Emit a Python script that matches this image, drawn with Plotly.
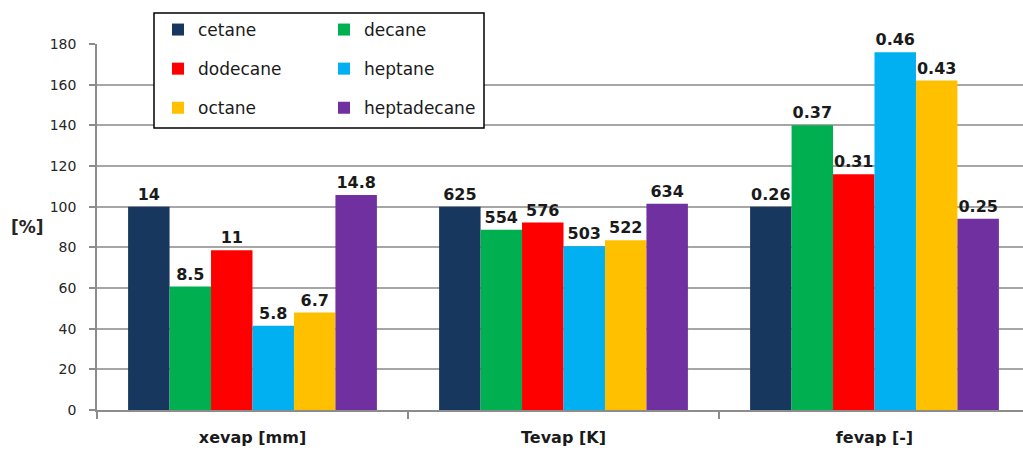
import plotly.graph_objects as go

# Evaporation parameters of each fuel, normalised to cetane (= 100 %)
categories = ["xevap [mm]", "Tevap [K]", "fevap [-]"]
fuels = ["cetane", "decane", "dodecane", "heptane", "octane", "heptadecane"]

cetane_pct = [100.0, 100.0, 100.0]
decane_pct = [60.7, 88.6, 140.0]
dodecane_pct = [78.6, 92.2, 116.0]
heptane_pct = [41.4, 80.5, 176.0]
octane_pct = [47.9, 83.5, 162.0]
heptadecane_pct = [105.7, 101.4, 94.0]

# Absolute values printed above the bars
cetane_lbl = ["14", "625", "0.26"]
decane_lbl = ["8.5", "554", "0.37"]
dodecane_lbl = ["11", "576", "0.31"]
heptane_lbl = ["5.8", "503", "0.46"]
octane_lbl = ["6.7", "522", "0.43"]
heptadecane_lbl = ["14.8", "634", "0.25"]

y_ticks = [0, 20, 40, 60, 80, 100, 120, 140, 160, 180]

series = [
    ("cetane", cetane_pct, cetane_lbl, "#17375E", "legend"),
    ("decane", decane_pct, decane_lbl, "#00B050", "legend2"),
    ("dodecane", dodecane_pct, dodecane_lbl, "#FF0000", "legend"),
    ("heptane", heptane_pct, heptane_lbl, "#00B0F0", "legend2"),
    ("octane", octane_pct, octane_lbl, "#FFC000", "legend"),
    ("heptadecane", heptadecane_pct, heptadecane_lbl, "#7030A0", "legend2"),
]

W, H = 1023, 451
ML, MR, MT, MB = 97, 0, 44, 41
plot_w = W - ML - MR
plot_h = H - MT - MB
cat_px = 311.0  # width of one category slot in pixels

fig = go.Figure()
for name, vals, lbls, color, leg in series:
    fig.add_trace(go.Bar(
        name=name,
        x=categories,
        y=vals,
        text=lbls,
        textposition="outside",
        constraintext="none",
        cliponaxis=False,
        textfont=dict(family="DejaVu Sans", size=16, color="#1a1a1a", weight="bold"),
        marker=dict(color=color, line=dict(width=0)),
        legend=leg,
        legendgroup=name,
    ))

FONT = "DejaVu Sans"
legend_common = dict(
    font=dict(family=FONT, size=17, color="#1a1a1a"),
    bgcolor="rgba(0,0,0,0)",
    borderwidth=0,
    orientation="v",
    tracegroupgap=14,
    xref="container",
    yref="container",
    xanchor="left",
    yanchor="top",
    itemclick=False,
)

fig.update_layout(
    width=W,
    height=H,
    margin=dict(l=ML, r=MR, t=MT, b=MB, pad=0, autoexpand=False),
    paper_bgcolor="white",
    plot_bgcolor="white",
    barmode="group",
    bargap=0.2,
    bargroupgap=0,
    font=dict(family=FONT, color="#262626"),
    legend=dict(x=158 / W, y=1 - 12 / H, **legend_common),
    legend2=dict(x=324 / W, y=1 - 12 / H, **legend_common),
    xaxis=dict(
        type="category",
        range=[-0.5, -0.5 + plot_w / cat_px],
        tickson="boundaries",
        ticks="outside",
        ticklen=7,
        tickcolor="#8c8c8c",
        tickwidth=1.5,
        showline=True,
        linecolor="#8c8c8c",
        linewidth=1.5,
        showgrid=False,
        tickfont=dict(family=FONT, size=16, color="#1a1a1a", weight="bold"),
        ticklabelstandoff=12,
    ),
    yaxis=dict(
        range=[0, 180],
        tickvals=y_ticks,
        ticks="outside",
        ticklen=6,
        tickcolor="#8c8c8c",
        tickwidth=1.5,
        showline=True,
        linecolor="#8c8c8c",
        linewidth=1.5,
        showgrid=True,
        gridcolor="#a6a6a6",
        gridwidth=1.5,
        zeroline=False,
        tickfont=dict(family=FONT, size=14, color="#262626"),
        ticklabelstandoff=10,
    ),
    showlegend=True,
)

# Opaque framed box behind the two legend columns
fig.add_shape(
    type="rect",
    xref="paper", yref="paper",
    x0=(154 - ML) / plot_w, x1=(484 - ML) / plot_w,
    y0=1 - (128 - MT) / plot_h, y1=1 + (MT - 13) / plot_h,
    line=dict(color="#000000", width=1.5),
    fillcolor="white",
    layer="above",
)

# Horizontal y-axis unit label
fig.add_annotation(
    text="<b>[%]</b>",
    xref="paper", yref="paper",
    x=(27 - ML) / plot_w, y=(410 - 227) / plot_h,
    xanchor="center", yanchor="middle",
    showarrow=False,
    font=dict(family=FONT, size=17, color="#262626"),
)

fig.write_html("out.html")
